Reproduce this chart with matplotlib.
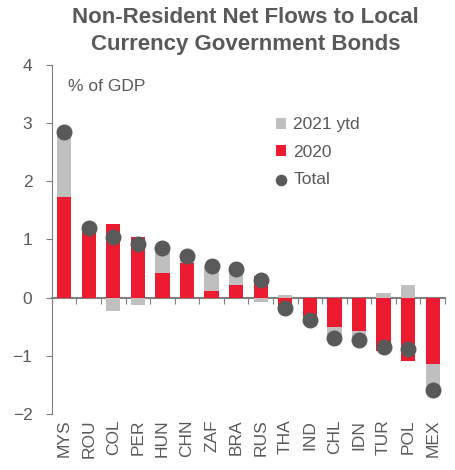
import numpy as np
import matplotlib.pyplot as plt

plt.rcParams['font.family'] = ['Liberation Sans', 'DejaVu Sans']

# ---- data (% of GDP) ----
paises = ['MYS', 'ROU', 'COL', 'PER', 'HUN', 'CHN', 'ZAF', 'BRA',
          'RUS', 'THA', 'IND', 'CHL', 'IDN', 'TUR', 'POL', 'MEX']
fluxo_2020 = [1.73, 1.12, 1.27, 1.04, 0.42, 0.60, 0.11, 0.21,
              0.37, -0.20, -0.33, -0.50, -0.57, -0.92, -1.08, -1.14]
fluxo_2021 = [1.11, 0.09, -0.23, -0.12, 0.44, 0.12, 0.43, 0.29,
              -0.07, 0.04, -0.05, -0.19, -0.15, 0.08, 0.21, -0.43]
total = [2.84, 1.20, 1.04, 0.92, 0.86, 0.72, 0.54, 0.50,
         0.30, -0.17, -0.38, -0.69, -0.72, -0.85, -0.88, -1.58]

vermelho = '#ED1B2F'
cinza = '#BFBFBF'
ponto = '#595959'
texto = '#595959'

x = np.arange(len(paises))
a20 = np.array(fluxo_2020)
a21 = np.array(fluxo_2021)

# stack positives and negatives separately (Excel style)
base21 = np.where(np.sign(a21) == np.sign(a20), a20, 0.0)

fig = plt.figure(figsize=(4.55, 4.70), dpi=100)
ax = fig.add_axes([0.114, 0.119, 0.864, 0.743])

w = 0.58
b20 = ax.bar(x, a20, width=w, color=vermelho, zorder=2)
b21 = ax.bar(x, a21, width=w, bottom=base21, color=cinza, zorder=2)
pts = ax.scatter(x, total, s=110, color=ponto, zorder=3)

ax.set_xlim(-0.5, len(paises) - 0.5)
ax.set_ylim(-2, 4)
ax.set_yticks(range(-2, 5))
ax.tick_params(axis='y', direction='out', length=4, color='#7F7F7F',
               labelsize=12.5, labelcolor=texto, pad=10)

for s in ['top', 'right', 'bottom']:
    ax.spines[s].set_visible(False)
ax.spines['left'].set_color('#7F7F7F')

# country names along the bottom
ax.set_xticks(x)
ax.set_xticklabels(paises, rotation=90, fontsize=12.5, color=texto)
ax.tick_params(axis='x', length=0, pad=4)

# zero line with ticks between categories
eixo0 = ax.secondary_xaxis(1 / 3)
eixo0.set_xticks(np.arange(-0.5, len(paises), 1.0))
eixo0.set_xticklabels([])
eixo0.tick_params(direction='out', length=4, color='#7F7F7F')
eixo0.spines['bottom'].set_color('#7F7F7F')
eixo0.spines['bottom'].set_linewidth(1.5)

ax.text(0.04, 0.96, '% of GDP', transform=ax.transAxes, fontsize=12.5,
        color=texto, va='top')

ax.legend([b21, b20, pts], ['2021 ytd', '2020', 'Total'], loc='upper left',
          bbox_to_anchor=(0.53, 0.895), frameon=False, fontsize=12.5,
          labelcolor=texto, handlelength=0.6, handleheight=0.6,
          handletextpad=0.4, labelspacing=0.72, markerscale=0.7)

fig.suptitle('Non-Resident Net Flows to Local\nCurrency Government Bonds',
             x=0.54, y=0.985, fontsize=16, fontweight='bold', color=texto,
             linespacing=1.4)

fig.savefig('out.png', dpi=100)
